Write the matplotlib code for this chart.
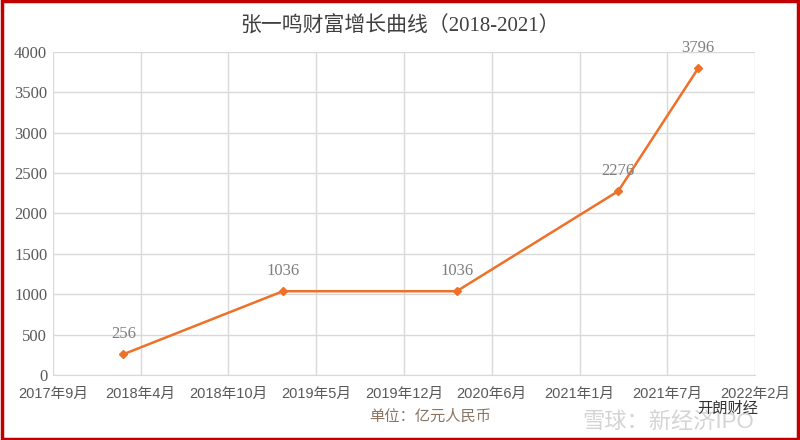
import matplotlib.pyplot as plt
import pandas as pd
from matplotlib.patches import Rectangle

# data
dates = ["2018-03-05", "2019-03-03", "2020-04-02", "2021-04-05", "2021-10-04"]
wealth = [256, 1036, 1036, 2276, 3796]

axis_start = "2017-09-25"
axis_step_days = 200
n_ticks = 9
y_ticks = [0, 500, 1000, 1500, 2000, 2500, 3000, 3500, 4000]

title = "张一鸣财富增长曲线（2018-2021）"
unit_label = "单位：亿元人民币"

SERIF = ["Liberation Serif", "Noto Sans CJK SC"]
SANS = ["Liberation Sans", "Noto Sans CJK SC"]
ORANGE = "#ee7127"
GRAY = "#595959"

x = pd.to_datetime(dates)
tick_dates = [pd.Timestamp(axis_start) + pd.Timedelta(days=axis_step_days * k)
              for k in range(n_ticks)]

fig = plt.figure(figsize=(8, 4.4), dpi=100)
ax = fig.add_axes([0.066, 0.148, 0.878, 0.734])

ax.plot(x, wealth, color=ORANGE, linewidth=1.8, marker="D", markersize=4.5,
        zorder=3)
for xi, yi in zip(x, wealth):
    ax.annotate(f"{yi}", (xi, yi), xytext=(0, 9), textcoords="offset points",
                ha="center", va="bottom", color="#7f7f7f", fontsize=12,
                family=SERIF)

ax.set_xlim(tick_dates[0], tick_dates[-1])
ax.set_ylim(0, 4000)
ax.set_xticks(tick_dates)
ax.set_xticklabels([f"{d.year}年{d.month}月" for d in tick_dates],
                   family=SANS, fontsize=10.5, color=GRAY)
ax.set_yticks(y_ticks)
ax.set_yticklabels([str(v) for v in y_ticks], family=SERIF, fontsize=12,
                   color=GRAY)
ax.tick_params(axis="y", length=0, pad=4)
ax.tick_params(axis="x", length=0, pad=9)

ax.grid(True, color="#d9d9d9", linewidth=1)
ax.set_axisbelow(True)
for side in ["top", "right", "left"]:
    ax.spines[side].set_visible(False)
ax.spines["bottom"].set_color("#d9d9d9")

fig.text(0.5, 0.94, title, ha="center", va="center", fontsize=15,
         color="#404040", family=SERIF)
fig.text(0.538, 0.052, unit_label, ha="center", va="center", fontsize=11,
         color="#8a7462", family=SANS)

# watermark
fig.text(0.835, 0.04, "雪球：新经济IPO", ha="center", va="center",
         fontsize=16, color="#d4d4d4", family=SANS, zorder=0)
fig.text(0.91, 0.072, "开朗财经", ha="center", va="center", fontsize=11,
         color="#333333", family=SANS)

fig.patches.append(Rectangle((0.002, 0.003), 0.996, 0.994,
                             transform=fig.transFigure, fill=False,
                             edgecolor="#c00000", linewidth=2.5))

fig.savefig("out.png", dpi=100)
